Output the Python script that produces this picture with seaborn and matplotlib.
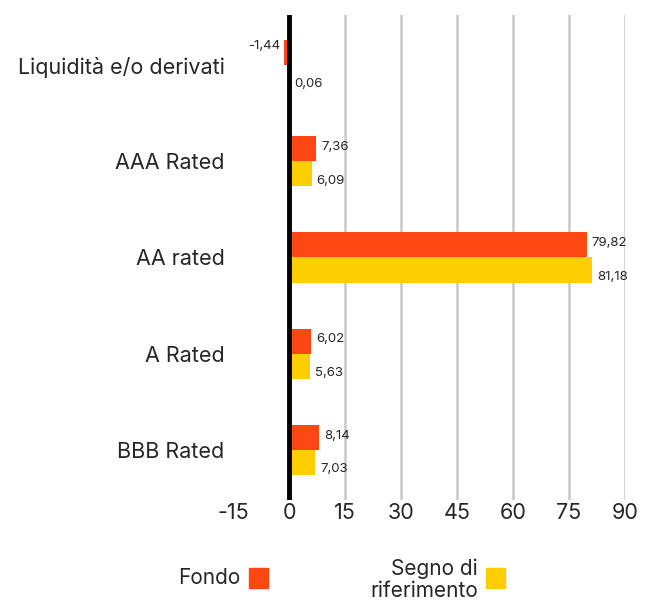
import matplotlib
matplotlib.use("Agg")
import matplotlib.pyplot as plt
import matplotlib.patches as mpatches
import seaborn as sns
import pandas as pd

categories = ["Liquidità e/o derivati", "AAA Rated", "AA rated", "A Rated", "BBB Rated"]
fondo = [-1.44, 7.36, 79.82, 6.02, 8.14]
segno = [0.06, 6.09, 81.18, 5.63, 7.03]
series = ["Fondo", "Segno di riferimento"]
xticks = [-15, 0, 15, 30, 45, 60, 75, 90]
colors = ["#FF4713", "#FFCE00"]

df = pd.DataFrame({
    "cat": categories * 2,
    "val": fondo + segno,
    "serie": [series[0]] * len(categories) + [series[1]] * len(categories),
})

sns.set_style("white")
plt.rcParams["font.family"] = ["Inter", "DejaVu Sans"]

fig = plt.figure(figsize=(6.53, 6.03), dpi=100)
ax = fig.add_axes([233 / 653, 1 - 500 / 603, (625 - 233) / 653, (500 - 15) / 603])

sns.barplot(data=df, x="val", y="cat", hue="serie", order=categories,
            hue_order=series, palette=colors, orient="h", width=0.52,
            saturation=1, legend=False, ax=ax, zorder=3, linewidth=0)

ax.set_xlim(-15, 90)
ax.set_ylim(len(categories) - 0.48, -0.52)
ax.set_xticks(xticks)
ax.set_xticklabels([str(t) for t in xticks], fontsize=15.5)
ax.tick_params(axis="x", length=0, pad=2)
ax.tick_params(axis="y", length=0, labelsize=15.5, pad=6)
for s in ax.spines.values():
    s.set_visible(False)
ax.set_xlabel("")
ax.set_ylabel("")
for t in xticks:
    if t > 0:
        ax.axvline(t, color="#c8c8c8", lw=1.8, zorder=1)
ax.axvline(0, color="black", lw=3.5, zorder=4)

def fmt(v):
    return f"{v:.2f}".replace(".", ",")

for i, cat in enumerate(categories):
    for j, vals in enumerate([fondo, segno]):
        v = vals[i]
        y = i - 0.13 + j * 0.26
        dy = -0.02 if j == 0 else 0.07
        if v < 0:
            ax.text(v - 0.8, y + dy - 0.05, fmt(v), ha="right", va="center", fontsize=9.5)
        else:
            ax.text(v + 1.3, y + dy, fmt(v), ha="left", va="center", fontsize=9.5)

# legend
fig.text(240 / 653, 1 - 578 / 603, "Fondo", ha="right", va="center", fontsize=15)
fig.patches.append(mpatches.Rectangle((249 / 653, 1 - 588 / 603), 19 / 653, 20 / 603,
                                      transform=fig.transFigure, color=colors[0]))
fig.text(478 / 653, 1 - 580 / 603, "Segno di\nriferimento", ha="right", va="center",
         fontsize=15, linespacing=1.15)
fig.patches.append(mpatches.Rectangle((486 / 653, 1 - 588 / 603), 19 / 653, 20 / 603,
                                      transform=fig.transFigure, color=colors[1]))

fig.savefig("out.png", dpi=100)
